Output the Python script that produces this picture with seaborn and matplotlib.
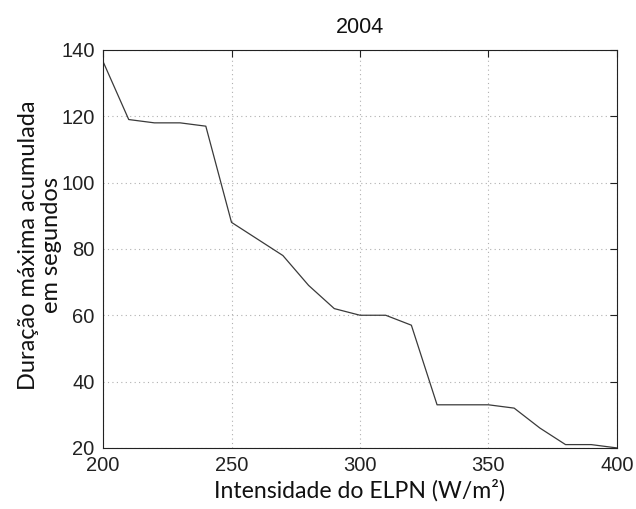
import matplotlib
matplotlib.use("Agg")
import matplotlib.pyplot as plt
import pandas as pd
import seaborn as sns

# Accumulated maximum duration per ELPN intensity level
intensidade = [200, 210, 220, 230, 240, 250, 260, 270, 280, 290, 300,
               310, 320, 330, 340, 350, 360, 370, 380, 390, 400]
duracao = [136.5, 119, 118, 118, 117, 88, 83, 78, 69, 62, 60,
           60, 57, 33, 33, 33, 32, 26, 21, 21, 20]

x_ticks = [200, 250, 300, 350, 400]
y_ticks = [20, 40, 60, 80, 100, 120, 140]
titulo = "2004"
rotulo_x = "Intensidade do ELPN (W/m²)"
rotulo_y = "Duração máxima acumulada\nem segundos"

df = pd.DataFrame({"intensidade": intensidade, "duracao": duracao})

sns.set_style("white")
plt.rcParams["font.family"] = ["Liberation Sans", "DejaVu Sans"]

fig = plt.figure(figsize=(6.36, 5.09), dpi=100)
ax = fig.add_axes([0.162, 0.12, 0.808, 0.782])

sns.lineplot(data=df, x="intensidade", y="duracao", ax=ax,
             color="#3a3a3a", linewidth=0.9)

ax.set_xlim(200, 400)
ax.set_ylim(20, 140)
ax.set_xticks(x_ticks)
ax.set_yticks(y_ticks)
ax.grid(True, linestyle=(0, (1, 3)), color="#b0b0b0", linewidth=0.8)
ax.tick_params(direction="in", length=5, width=0.8, colors="#222222",
               labelsize=14.5, top=True, right=True, pad=6)
for s in ax.spines.values():
    s.set_color("#222222")
    s.set_linewidth(0.8)

label_font = ["Lato", "DejaVu Sans"]
ax.set_title(titulo, fontsize=15.5, pad=12, color="#111111")
ax.set_xlabel(rotulo_x, family=label_font, fontsize=16.6,
              labelpad=3, color="#111111")
ax.set_ylabel(rotulo_y, family=label_font, fontsize=17,
              color="#111111", linespacing=1.1)
ax.yaxis.set_label_coords(-0.08, 0.509)

fig.savefig("out.png", dpi=100)
